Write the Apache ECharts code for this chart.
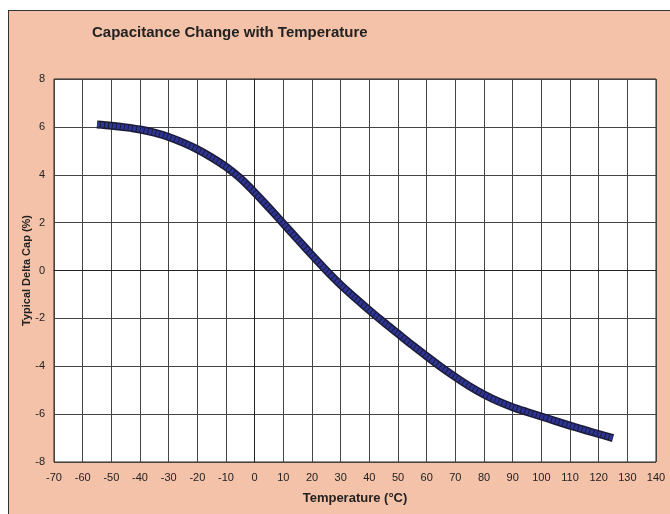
<!DOCTYPE html>
<html>
<head>
<meta charset="utf-8">
<script src="https://cdn.jsdelivr.net/npm/echarts@6/dist/echarts.min.js"></script>
<style>
  html, body { margin: 0; padding: 0; background: #fff; }
  #wrap { position: relative; width: 670px; height: 514px; overflow: hidden; }
  #frame {
    position: absolute; left: 8px; top: 10px; width: 680px; height: 520px;
    background: #f4c2a8; border-left: 1.5px solid #333; border-top: 1.5px solid #333;
  }
  #myChart { position: absolute; left: 0; top: 0; width: 670px; height: 514px; }
</style>
</head>
<body>
<div id="wrap">
  <div id="frame"></div>
  <div id="myChart"></div>
</div>
<script>
  // 温度 (°C)
  var temps = [-55, -50, -45, -40, -35, -30, -25, -20, -15, -10, -5, 0, 5, 10, 15, 20, 25, 30,
               35, 40, 45, 50, 55, 60, 65, 70, 75, 80, 85, 90, 95, 100, 105, 110, 115, 120, 125];
  // 容量变化 (%)
  var deltaCap = [6.1, 6.05, 5.98, 5.89, 5.76, 5.58, 5.34, 5.06, 4.72, 4.33, 3.85, 3.26, 2.62, 1.96, 1.3, 0.64,
                  0.0, -0.6, -1.14, -1.66, -2.16, -2.64, -3.12, -3.58, -4.03, -4.45, -4.84, -5.18, -5.47,
                  -5.71, -5.91, -6.1, -6.29, -6.48, -6.66, -6.83, -7.0];

  var pts = temps.map(function (t, i) { return [t, deltaCap[i]]; });

  var myChart = echarts.init(document.getElementById('myChart'));
  myChart.setOption({
    backgroundColor: 'transparent',
    animation: false,
    textStyle: { fontFamily: 'Liberation Sans, Arial, sans-serif' },
    title: {
      text: 'Capacitance Change with Temperature',
      left: 87, top: 20,
      textStyle: { fontSize: 15, fontWeight: 'bold', color: '#222' }
    },
    grid: {
      left: 54, right: 14, top: 79, bottom: 52,
      show: true, backgroundColor: '#fff', borderColor: '#222', borderWidth: 1
    },
    xAxis: {
      type: 'value', min: -70, max: 140, interval: 10,
      name: 'Temperature (°C)', nameLocation: 'middle', nameGap: 30,
      nameTextStyle: { fontSize: 13, fontWeight: 'bold', color: '#222' },
      axisLine: { lineStyle: { color: '#222' } },
      axisTick: { show: false },
      axisLabel: { fontSize: 11, color: '#222', margin: 10 },
      splitLine: { lineStyle: { color: '#444', width: 1 } }
    },
    yAxis: {
      type: 'value', min: -8, max: 8, interval: 2,
      name: 'Typical Delta Cap (%)', nameLocation: 'middle', nameGap: 22,
      nameMoveOverlap: false,
      nameTextStyle: { fontSize: 11, fontWeight: 'bold', color: '#222' },
      axisLine: { show: true, lineStyle: { color: '#222' } },
      axisTick: { show: false },
      axisLabel: { fontSize: 11, color: '#222', margin: 9 },
      splitLine: { lineStyle: { color: '#444', width: 1 } }
    },
    series: [
      {
        type: 'line', data: pts, smooth: 0.3,
        showSymbol: false, z: 3,
        lineStyle: { color: '#1c1c3a', width: 8, join: 'round' }
      },
      {
        type: 'line', data: pts, smooth: 0.3,
        showSymbol: false, z: 4,
        lineStyle: { color: '#2d3494', width: 5, type: [3, 1], join: 'round' }
      }
    ]
  });
</script>
</body>
</html>
